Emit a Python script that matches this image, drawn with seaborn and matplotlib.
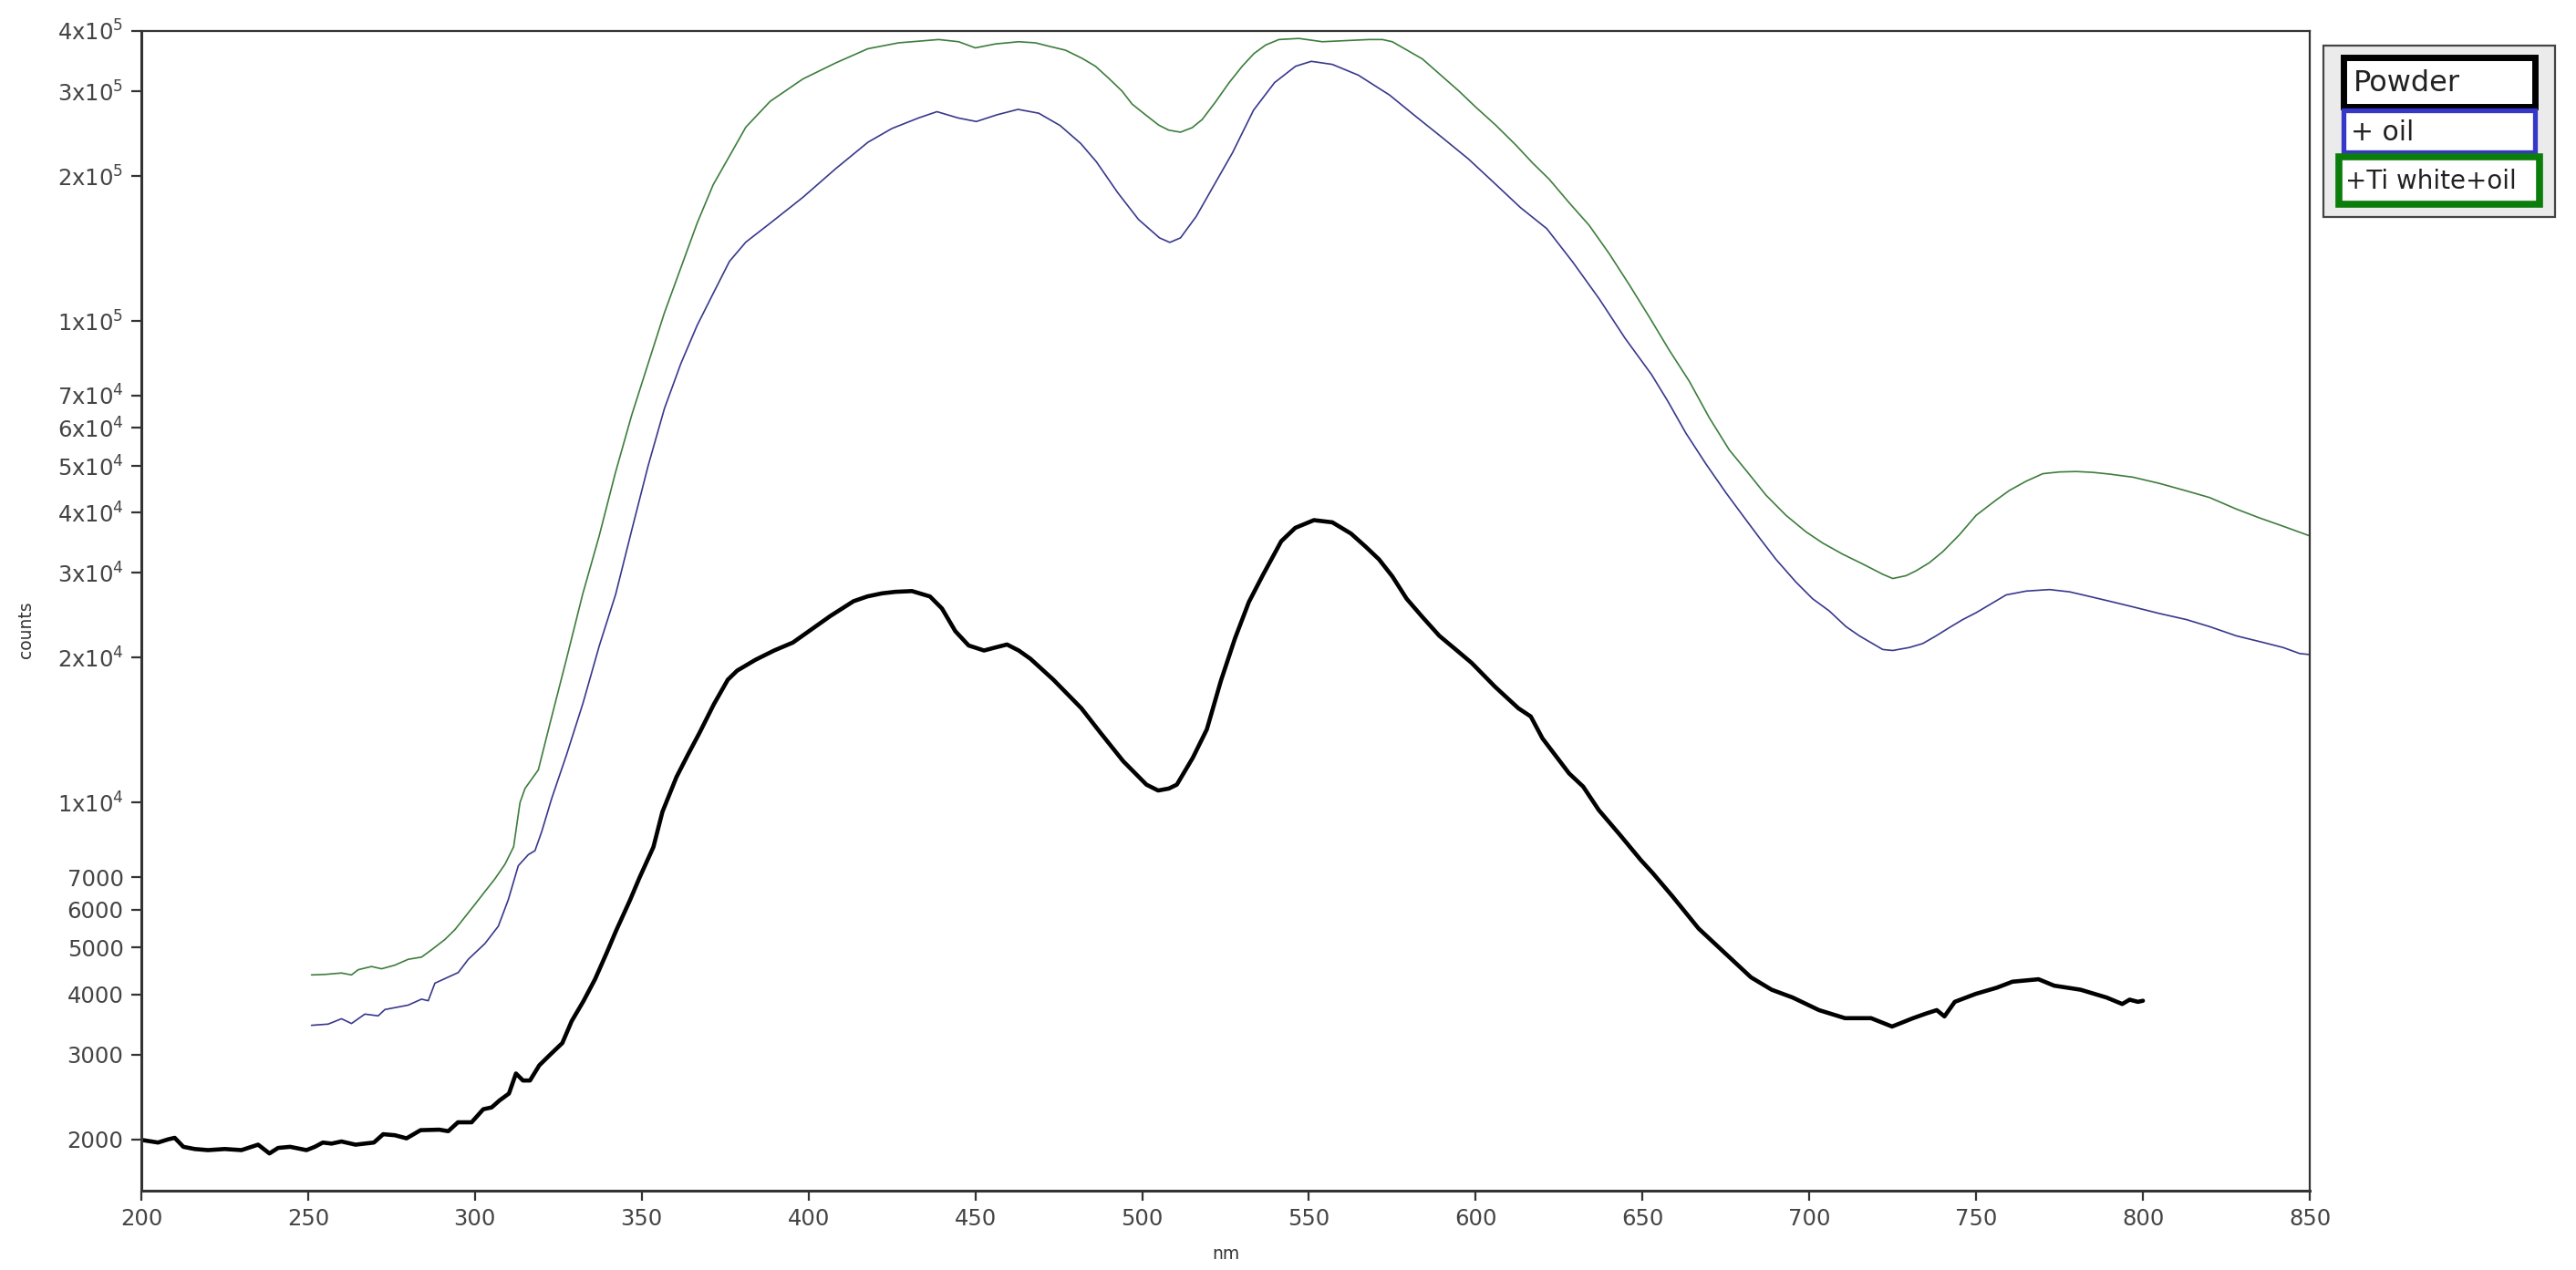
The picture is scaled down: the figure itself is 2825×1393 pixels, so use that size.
import numpy as np
import pandas as pd
import matplotlib
matplotlib.use("Agg")
import matplotlib.pyplot as plt
import seaborn as sns
from matplotlib.patches import Rectangle

# ---------------- data ----------------
powder_nm = [200, 205, 208, 210, 212.6, 216, 220, 225, 230, 235, 238.4, 241, 244.6, 249.5, 252, 254.4,
             257, 260, 264.2, 269.7, 272.5, 276, 279.5, 283.7, 289.3, 292, 294.9, 299, 302.5, 305,
             307.4, 310.2, 312.3, 314.4, 316.5, 319.3, 322.8, 326.2, 329, 332.5, 336, 339.5, 342.3,
             346.5, 349.3, 353.5, 356.2, 360.4, 363.9, 367.4, 371.6, 375.8, 378.6, 384.1, 389.7,
             395.3, 400.9, 406.5, 413.5, 417.6, 422, 426, 431, 436.4, 440, 444, 448, 452.6, 456,
             459.5, 463, 466.5, 473.4, 481.8, 487.4, 494.3, 501.3, 504.8, 508, 510.4, 515.2, 519.4,
             523.6, 527.8, 532, 536.2, 541.7, 545.9, 551.5, 557, 562.6, 567, 571, 575, 579.3, 584,
             589.1, 594, 598.8, 605.8, 612.8, 616.5, 620, 624.4, 628, 632.2, 636.9, 643.2, 649.5,
             653, 658.9, 666.8, 674.6, 682.5, 688.7, 695, 702.9, 710.7, 718.5, 724.8, 731.1, 735,
             738.2, 740.5, 743.6, 749.9, 756.2, 760.9, 768.7, 773.4, 781.3, 789.1, 793.8, 796,
             798.5, 800]
powder_counts = [1995, 1970, 2000, 2015, 1930, 1910, 1900, 1910, 1900, 1950, 1870, 1920, 1930, 1900,
                 1930, 1970, 1960, 1980, 1950, 1970, 2050, 2040, 2010, 2090, 2095, 2080, 2170, 2170,
                 2310, 2330, 2410, 2490, 2740, 2650, 2650, 2850, 3010, 3170, 3520, 3870, 4300, 4880,
                 5420, 6280, 6980, 8090, 9570, 11300, 12600, 14000, 16000, 18000, 18800, 19800,
                 20700, 21500, 22900, 24400, 26200, 26800, 27200, 27400, 27500, 26800, 25300, 22700,
                 21200, 20700, 21000, 21300, 20700, 19900, 18000, 15700, 14000, 12200, 10900, 10600,
                 10700, 10900, 12400, 14200, 17900, 21900, 26100, 29700, 34900, 37200, 38600, 38200,
                 36200, 34000, 32000, 29500, 26500, 24300, 22200, 20800, 19500, 17400, 15700, 15100,
                 13600, 12400, 11500, 10800, 9650, 8580, 7600, 7150, 6400, 5480, 4880, 4340, 4090,
                 3940, 3710, 3570, 3570, 3430, 3570, 3650, 3710, 3600, 3860, 4010, 4130, 4250, 4300,
                 4170, 4090, 3940, 3820, 3900, 3860, 3880]

oil_nm = [251, 256, 260, 263, 267, 271, 273, 280, 284, 286, 288, 295, 298, 303, 307, 310, 313, 316,
          318, 320, 323, 327.5, 332.4, 337.3, 342.2, 347, 351.9, 356.8, 361.7, 366.6, 371.4, 376.3,
          381.2, 388.5, 398.3, 408.1, 417.8, 425, 433, 438.5, 444.8, 450.3, 456.5, 462.8, 469,
          475.4, 481.6, 486.3, 492.6, 498.9, 505.2, 508.3, 511.5, 516.2, 520.9, 527.1, 533.4,
          539.7, 546, 550.7, 557, 564.8, 574.2, 582, 589.9, 597.8, 605.6, 613.4, 621.3, 629.1,
          637, 644.8, 652.7, 657.5, 663, 669, 675, 680, 685, 690, 696, 701, 706, 711, 715, 722,
          725, 730, 734, 738, 742, 746, 750, 755, 759, 765, 772, 778, 782, 790, 797, 805, 813,
          820, 828, 835, 842, 847, 850]
oil_counts = [3450, 3470, 3560, 3480, 3640, 3610, 3720, 3800, 3910, 3880, 4220, 4440, 4730, 5100,
              5540, 6290, 7400, 7800, 7950, 8700, 10200, 12600, 16100, 21200, 27100, 36800, 50000,
              65800, 81500, 97900, 114000, 133000, 145800, 159600, 180600, 207000, 235000,
              251000, 264000, 272000, 264000, 259500, 268000, 275000, 270000, 254600, 233600,
              214000, 185000, 162500, 148800, 145600, 148800, 164800, 188000, 223600, 274000,
              312600, 338000, 346000, 341000, 323900, 294400, 266000, 240500, 217000, 193300,
              172000, 155500, 132500, 111200, 92000, 77400, 68300, 58500, 50500, 44000, 39500,
              35500, 32000, 28700, 26500, 25000, 23200, 22200, 20800, 20700, 21000, 21400, 22200,
              23100, 24000, 24800, 26000, 27000, 27500, 27700, 27400, 27000, 26200, 25500, 24700,
              24000, 23200, 22200, 21600, 21000, 20400, 20300]

ti_nm = [251, 255, 260, 263, 265, 269, 272, 276, 280, 284, 287, 291, 294, 297, 300, 303, 306, 309,
         311.6, 313.5, 315, 319, 322.6, 327.5, 332.3, 337.2, 342.1, 347, 351.9, 356.8, 361.7,
         366.6, 371.4, 376.3, 381.2, 388.5, 398.3, 408.1, 417.8, 427, 439, 445, 450, 456, 463,
         468, 472, 477, 482, 486, 490, 494, 497, 501, 505, 508, 511.5, 515, 518, 522, 526, 530,
         533.5, 537, 541, 547, 554, 561, 568, 572, 575, 584, 595, 600, 606, 612, 617, 622, 628,
         634, 640, 646, 652, 658, 664, 670, 676, 681, 687, 693, 699, 704, 710, 716, 722, 725,
         729, 732, 736, 740, 745, 750, 756, 760, 765, 770, 775, 780, 785, 790, 797, 805, 813,
         820, 828, 835, 842, 850]
ti_counts = [4390, 4400, 4430, 4390, 4500, 4570, 4520, 4600, 4730, 4780, 4950, 5200, 5450, 5790,
             6150, 6540, 6950, 7450, 8100, 10000, 10700, 11700, 14700, 19950, 27100, 35700, 48400,
             63800, 81500, 104000, 128800, 159600, 191700, 220000, 252600, 285800, 318000,
             343300, 367500, 378000, 384000, 380000, 369000, 376000, 380000, 378000, 372000,
             365000, 351000, 338000, 319000, 300000, 282000, 268000, 255000, 249000, 246600,
             252000, 262000, 285000, 312000, 338000, 359000, 374000, 384000, 386000, 380000,
             382000, 384000, 384000, 380000, 350000, 300000, 278000, 255000, 232000, 213000,
             197000, 176000, 158000, 138000, 119000, 102000, 87000, 75000, 63000, 54000, 49000,
             43500, 39500, 36500, 34600, 32800, 31300, 29800, 29200, 29600, 30300, 31500, 33200,
             36000, 39500, 42500, 44500, 46500, 48200, 48600, 48700, 48500, 48100, 47400, 46000,
             44400, 43000, 40700, 39000, 37500, 35800]

series_names = ["Powder", "+ oil", "+Ti white+oil"]
series_colors = ["#000000", "#38388c", "#3d7d3d"]
legend_edge_colors = ["#000000", "#3636c8", "#0b7d0b"]

x_ticks = [200, 250, 300, 350, 400, 450, 500, 550, 600, 650, 700, 750, 800, 850]
y_ticks = [4e5, 3e5, 2e5, 1e5, 7e4, 6e4, 5e4, 4e4, 3e4, 2e4, 1e4, 7000, 6000, 5000, 4000, 3000, 2000]
y_tick_labels = [r"4x10$^{5}$", r"3x10$^{5}$", r"2x10$^{5}$", r"1x10$^{5}$",
                 r"7x10$^{4}$", r"6x10$^{4}$", r"5x10$^{4}$", r"4x10$^{4}$", r"3x10$^{4}$",
                 r"2x10$^{4}$", r"1x10$^{4}$", "7000", "6000", "5000", "4000", "3000", "2000"]

# ---------------- figure ----------------
sns.set_style("ticks")
plt.rcParams["font.family"] = ["DejaVu Sans"]
plt.rcParams["mathtext.fontset"] = "dejavusans"

W, H = 2825, 1393
fig = plt.figure(figsize=(W / 100, H / 100), dpi=100)
fig.patch.set_facecolor("white")
ax_left, ax_right, ax_top, ax_bottom = 155, 2533, 34, 1306
ax = fig.add_axes([ax_left / W, 1 - ax_bottom / H, (ax_right - ax_left) / W, (ax_bottom - ax_top) / H])

frames = [
    pd.DataFrame({"nm": powder_nm, "counts": powder_counts}),
    pd.DataFrame({"nm": oil_nm, "counts": oil_counts}),
    pd.DataFrame({"nm": ti_nm, "counts": ti_counts}),
]
widths = [3.3, 1.2, 1.2]
for df, col, lw in zip(frames, series_colors, widths):
    sns.lineplot(data=df, x="nm", y="counts", ax=ax, color=col, linewidth=lw,
                 estimator=None, sort=False)

ax.set_yscale("log")
ax.set_xlim(200, 850)
ax.set_ylim(1565, 4e5)
ax.yaxis.set_minor_locator(matplotlib.ticker.NullLocator())
ax.set_yticks(y_ticks)
ax.set_yticklabels(y_tick_labels)
ax.set_xticks(x_ticks)
ax.set_xticklabels([str(v) for v in x_ticks])

ax.tick_params(axis="both", which="major", direction="out", length=8, width=1.6,
               colors="#333333", labelsize=17.5, labelcolor="#444444", pad=6)
for side in ["left", "bottom"]:
    ax.spines[side].set_linewidth(2.2)
    ax.spines[side].set_color("#333333")
for side in ["top", "right"]:
    ax.spines[side].set_linewidth(1.6)
    ax.spines[side].set_color("#333333")
    ax.spines[side].set_visible(True)

ax.set_xlabel("nm", fontsize=13.5, color="#333333")
ax.set_ylabel("counts", fontsize=13.5, color="#333333")
ax.xaxis.set_label_coords(0.5, -(1366 - ax_bottom) / (ax_bottom - ax_top))
ax.yaxis.set_label_coords((38 - ax_left) / (ax_right - ax_left), 0.484)

# ---------------- legend (boxed labels, as in the reference) ----------------
def fig_rect(x0, y0, x1, y1, **kw):
    r = Rectangle((x0 / W, 1 - y1 / H), (x1 - x0) / W, (y1 - y0) / H,
                  transform=fig.transFigure, **kw)
    fig.add_artist(r)

fig_rect(2548, 50, 2802, 238, facecolor="#ebebeb", edgecolor="#444444", linewidth=1.6)
boxes = [(2570, 63, 2780, 117, 5.0), (2570, 121, 2780, 167, 3.8), (2565, 172, 2785, 224, 5.5)]
text_x = [2581, 2578, 2572]
text_sizes = [23, 21.5, 20]
for (x0, y0, x1, y1, lw), ec, name, tx, fs in zip(boxes, legend_edge_colors, series_names,
                                                    text_x, text_sizes):
    fig_rect(x0, y0, x1, y1, facecolor="white", edgecolor=ec, linewidth=lw)
    fig.text(tx / W, 1 - ((y0 + y1) / 2 + 1) / H, name, fontsize=fs, color="#222222",
             va="center", ha="left")

fig.savefig("out.png", dpi=100, facecolor="white")
